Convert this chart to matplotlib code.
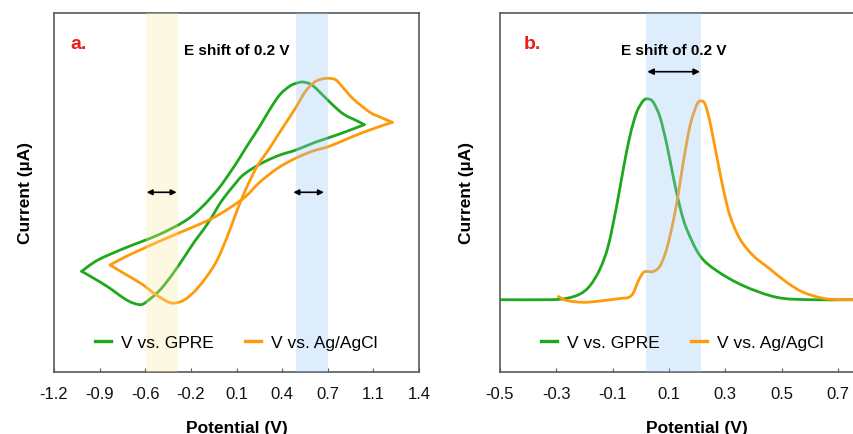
import matplotlib
matplotlib.use("Agg")
import matplotlib.pyplot as plt
from matplotlib.lines import Line2D
from matplotlib.path import Path
from matplotlib.patches import PathPatch

plt.rcParams['font.family'] = ['Liberation Sans', 'DejaVu Sans']

GREEN = '#1DA81D'
ORANGE = '#FF9A0A'
SPINE = '#5a5a5a'

# ---------------- Panel a: cyclic voltammograms ----------------
a_ticks = [-1.2, -0.875, -0.55, -0.225, 0.1, 0.425, 0.75, 1.075, 1.4]
a_ticklabels = ["-1.2", "-0.9", "-0.6", "-0.2", "0.1", "0.4", "0.7", "1.1", "1.4"]

cv_gpre_x = [-1.003, -0.887, -0.694, -0.459, -0.267, -0.148, -0.030, 0.054, 0.113,
             0.175, 0.267, 0.339, 0.410, 0.481, 0.531, 0.574, 0.624, 0.671, 0.766,
             0.861, 0.956, 1.010,
             0.873, 0.766, 0.647, 0.524, 0.410, 0.303, 0.208, 0.139, 0.089, -0.005,
             -0.077, -0.132, -0.196, -0.267, -0.338, -0.409, -0.459, -0.516, -0.575,
             -0.637, -0.694, -0.765, -0.815, -0.908, -1.003]
cv_gpre_y = [10.07, 11.2, 12.4, 13.7, 15.1, 16.47, 18.3, 19.95, 21.2,
             22.6, 24.6, 26.3, 27.75, 28.6, 28.9, 29.0, 28.8, 28.3, 26.97,
             25.8, 25.13, 24.73,
             24.0, 23.47, 22.9, 22.2, 21.7, 21.05, 20.3, 19.6, 18.8, 17.13,
             15.47, 14.3, 13.1, 11.6, 10.13, 8.8, 8.0, 7.3, 6.75,
             6.9, 7.3, 8.0, 8.5, 9.3, 10.07]
cv_gpre_vertex = 21   # index of the switching potential

cv_agcl_x = [-0.801, -0.694, -0.575, -0.481, -0.386, -0.338, -0.267, -0.172, -0.053,
             0.030, 0.100, 0.161, 0.244, 0.327, 0.400, 0.470, 0.529, 0.588, 0.647,
             0.695, 0.754, 0.802, 0.837, 0.932, 1.051, 1.122, 1.210,
             1.003, 0.766, 0.645, 0.524, 0.396, 0.267, 0.161, 0.039, -0.082,
             -0.260, -0.445, -0.587, -0.694, -0.801]
cv_agcl_y = [10.7, 9.8, 8.8, 7.8, 7.0, 6.9, 7.25, 8.47, 10.8,
             13.4, 16.0, 18.1, 20.5, 22.2, 23.8, 25.3, 26.6, 28.0, 28.9,
             29.25, 29.37, 29.25, 28.8, 27.3, 25.97, 25.5, 24.97,
             23.97, 22.6, 22.1, 21.4, 20.4, 19.0, 17.5, 16.3, 15.3,
             14.2, 13.1, 12.2, 11.5, 10.7]
cv_agcl_vertex = 26

a_band_yellow = (-0.545, -0.317)
a_band_blue = (0.524, 0.752)
a_arrow_y = 17.97
a_arrow_left = (-0.540, -0.326)
a_arrow_right = (0.505, 0.723)

# ---------------- Panel b: differential pulse voltammograms ----------------
b_ticks = [-0.5, -0.3, -0.1, 0.1, 0.3, 0.5, 0.7]
b_ticklabels = ["-0.5", "-0.3", "-0.1", "0.1", "0.3", "0.5", "0.7"]

dpv_gpre_x = [-0.5, -0.3225, -0.2632, -0.216, -0.1805, -0.145, -0.1155, -0.0857,
              -0.0622, -0.0385, -0.0147, 0.0088, 0.0265, 0.0443, 0.068, 0.0918,
              0.1153, 0.139, 0.1628, 0.210, 0.2693, 0.3638, 0.4824, 0.6006, 0.7568, 0.9]
dpv_gpre_y = [7.23, 7.23, 7.37, 7.8, 8.63, 10.3, 12.63, 16.63,
              20.3, 23.63, 25.97, 27.13, 27.3, 26.97, 25.5, 22.8,
              19.5, 16.5, 14.3, 11.63, 10.13, 8.63, 7.47, 7.23, 7.23, 7.23]

dpv_agcl_x = [-0.293, -0.2632, -0.2043, -0.145, -0.074, -0.0445, -0.0268, -0.0090,
              0.0088, 0.0254, 0.0443, 0.068, 0.0918, 0.1153, 0.133, 0.1508, 0.1745,
              0.1983, 0.2125, 0.2278, 0.2455, 0.2693, 0.2928, 0.3165, 0.352, 0.3993,
              0.4586, 0.5179, 0.5768, 0.6478, 0.7071, 0.7568, 0.9]
dpv_agcl_y = [7.55, 7.15, 6.97, 7.1, 7.35, 7.45, 7.9, 9.1,
              9.95, 10.05, 10.05, 10.6, 12.3, 15.1, 17.8, 21.0, 24.6,
              26.7, 27.1, 26.8, 25.0, 21.6, 18.3, 15.63, 13.3, 11.63,
              10.3, 8.97, 7.97, 7.37, 7.23, 7.23, 7.23]

b_band_blue = (0.0187, 0.213)
b_arrow_y = 30.03
b_arrow = (0.023, 0.210)

labels = ["V vs. GPRE", "V vs. Ag/AgCl"]


def smooth_path(xs, ys):
    """Smoothed-line rendering (like a spreadsheet 'smoothed line'):
    cubic Bezier segments through the given points."""
    pts = list(zip(xs, ys))
    n = len(pts)
    verts = [pts[0]]
    codes = [Path.MOVETO]
    for i in range(n - 1):
        p0 = pts[i - 1] if i > 0 else pts[i]
        p1 = pts[i]
        p2 = pts[i + 1]
        p3 = pts[i + 2] if i + 2 < n else pts[i + 1]
        c1 = (p1[0] + (p2[0] - p0[0]) / 6.0, p1[1] + (p2[1] - p0[1]) / 6.0)
        c2 = (p2[0] - (p3[0] - p1[0]) / 6.0, p2[1] - (p3[1] - p1[1]) / 6.0)
        verts += [c1, c2, p2]
        codes += [Path.CURVE4] * 3
    return Path(verts, codes)


def draw_smooth(ax, xs, ys, color, lw):
    ax.add_patch(PathPatch(smooth_path(xs, ys), facecolor='none', edgecolor=color,
                           lw=lw, capstyle='round', joinstyle='round', zorder=2))


fig = plt.figure(figsize=(8.54, 4.35), dpi=100)
axA = fig.add_axes([54/854, 62/435, 365/854, 359/435])
axB = fig.add_axes([500/854, 62/435, 394.3/854, 359/435])


def style(ax):
    for s in ax.spines.values():
        s.set_color(SPINE)
        s.set_linewidth(1.2)
    ax.set_yticks([])
    ax.tick_params(axis='x', direction='in', length=3, width=0.8, color=SPINE,
                   labelsize=12, pad=10, labelcolor='#111111')
    ax.set_ylim(0, 35.9)


lw = 2.0
# Panel a: each loop split at the switching potential so the vertex stays sharp
for xs, ys, v, col in ((cv_gpre_x, cv_gpre_y, cv_gpre_vertex, GREEN),
                       (cv_agcl_x, cv_agcl_y, cv_agcl_vertex, ORANGE)):
    draw_smooth(axA, xs[:v + 1], ys[:v + 1], col, lw)
    draw_smooth(axA, xs[v:], ys[v:], col, lw)
axA.axvspan(*a_band_yellow, color='#FBEA9E', alpha=0.3, lw=0, zorder=3)
axA.axvspan(*a_band_blue, color='#94C6F7', alpha=0.3, lw=0, zorder=3)
for (x0, x1) in (a_arrow_left, a_arrow_right):
    axA.annotate('', xy=(x1, a_arrow_y), xytext=(x0, a_arrow_y),
                 arrowprops=dict(arrowstyle='<|-|>', color='black', lw=1.2,
                                 mutation_scale=8, shrinkA=0, shrinkB=0), zorder=4)
axA.set_xlim(-1.2, 1.4)
axA.set_xticks(a_ticks)
axA.set_xticklabels(a_ticklabels)
style(axA)
axA.text(0.044, 0.9017, 'a.', transform=axA.transAxes, color='#E8201A',
         fontsize=14, fontweight='bold', va='baseline', ha='left')
axA.text(0.5005, 0.886, 'E shift of 0.2 V', transform=axA.transAxes,
         fontsize=11, fontweight='bold', va='baseline', ha='center')
axA.set_xlabel('Potential (V)', fontsize=12.5, fontweight='bold')
axA.xaxis.set_label_coords(0.5, -0.134)
axA.set_ylabel('Current (µA)', fontsize=12.5, fontweight='bold', va='center')
axA.yaxis.set_label_coords(-0.079, 0.5)

# Panel b
draw_smooth(axB, dpv_gpre_x, dpv_gpre_y, GREEN, lw)
draw_smooth(axB, dpv_agcl_x, dpv_agcl_y, ORANGE, lw)
axB.axvspan(*b_band_blue, color='#94C6F7', alpha=0.3, lw=0, zorder=3)
axB.annotate('', xy=(b_arrow[1], b_arrow_y), xytext=(b_arrow[0], b_arrow_y),
             arrowprops=dict(arrowstyle='<|-|>', color='black', lw=1.2,
                             mutation_scale=9, shrinkA=0, shrinkB=0), zorder=4)
axB.set_xlim(-0.5, 0.9)
axB.set_xticks(b_ticks)
axB.set_xticklabels(b_ticklabels)
style(axB)
axB.text(0.059, 0.9017, 'b.', transform=axB.transAxes, color='#E8201A',
         fontsize=14, fontweight='bold', va='baseline', ha='left')
axB.text(0.4395, 0.886, 'E shift of 0.2 V', transform=axB.transAxes,
         fontsize=11, fontweight='bold', va='baseline', ha='center')
axB.set_xlabel('Potential (V)', fontsize=12.5, fontweight='bold')
axB.xaxis.set_label_coords(0.5, -0.134)
axB.set_ylabel('Current (µA)', fontsize=12.5, fontweight='bold', va='center')
axB.yaxis.set_label_coords(-0.0845, 0.5)

handles = [Line2D([], [], color=GREEN, lw=2.4), Line2D([], [], color=ORANGE, lw=2.4)]
for ax, cx in ((axA, 0.5005), (axB, 0.463)):
    leg = ax.legend(handles, labels, loc='center', bbox_to_anchor=(cx, 0.081),
                    ncol=2, frameon=False, fontsize=12.5, handlelength=0.9,
                    handletextpad=0.6, columnspacing=1.8, borderpad=0.2)
    leg.set_zorder(5)

fig.savefig('out.png', dpi=100)
